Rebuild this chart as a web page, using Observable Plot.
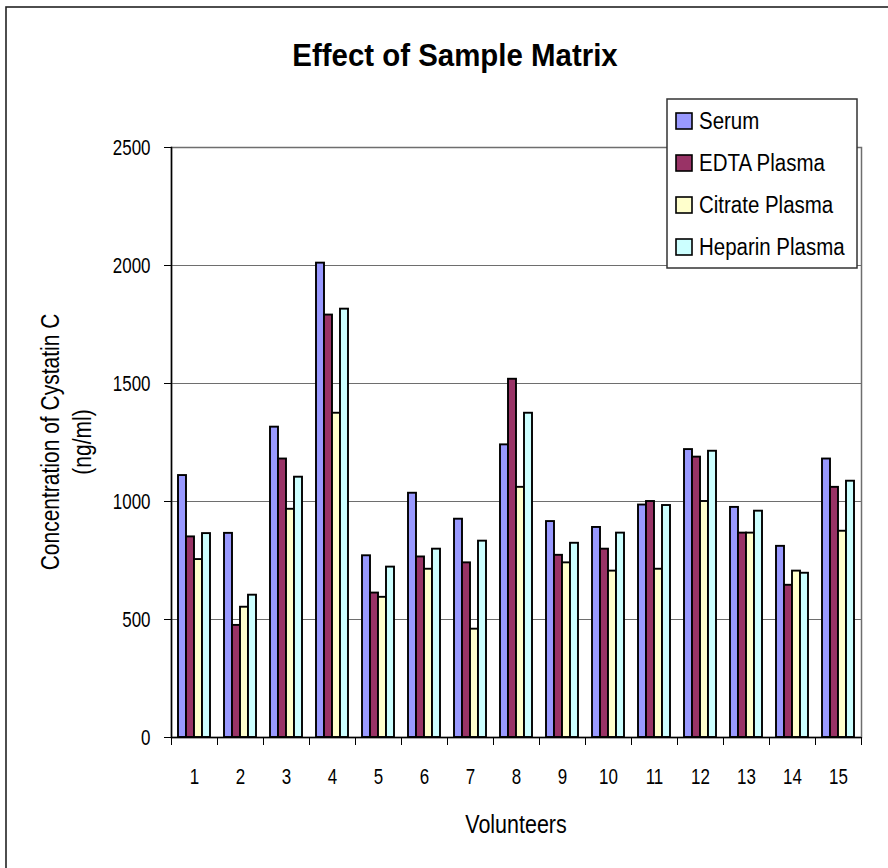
<!DOCTYPE html>
<html><head><meta charset="utf-8">
<script src="https://cdn.jsdelivr.net/npm/d3@7"></script>
<script src="https://cdn.jsdelivr.net/npm/@observablehq/plot@0.6"></script>
<style>
html,body{margin:0;padding:0;background:#fff;}
#wrap{position:relative;width:888px;height:868px;overflow:hidden;background:#fff;}
#chart{position:absolute;left:0;top:0;}
#overlay{position:absolute;left:0;top:0;}
</style></head><body>
<div id="wrap"><div id="chart"></div><svg id="overlay" width="888" height="868" xmlns="http://www.w3.org/2000/svg"></svg></div>
<script>
const FONT = '"Liberation Sans",Arial,sans-serif';

const titleText = "Effect of Sample Matrix";
const xTitle = "Volunteers";
const yTitleLines = ["Concentration of Cystatin C", "(ng/ml)"];
const volunteers = ["1","2","3","4","5","6","7","8","9","10","11","12","13","14","15"];
const series = ["Serum", "EDTA Plasma", "Citrate Plasma", "Heparin Plasma"];
const colors = ["#9999FF", "#993366", "#FFFFCC", "#CCFFFF"];
const yTicks = [0, 500, 1000, 1500, 2000, 2500];

const serum   = [1110, 865, 1315, 2010, 770, 1035, 925, 1240, 915, 890, 985, 1220, 975, 810, 1180];
const edta    = [850, 475, 1180, 1790, 612, 765, 740, 1518, 772, 798, 1000, 1188, 866, 645, 1060];
const citrate = [754, 552, 967, 1374, 594, 713, 459, 1060, 740, 705, 713, 1000, 866, 705, 874];
const heparin = [864, 603, 1103, 1815, 722, 798, 832, 1374, 823, 866, 983, 1213, 959, 696, 1086];
const values = [serum, edta, citrate, heparin];

const data = volunteers.flatMap((v, i) => series.map((s, j) => ({volunteer: v, series: s, value: values[j][i]})));

const W = 888, H = 868, mL = 171, mR = 27, mT = 147, mB = 131;
const step = (W - mL - mR) / volunteers.length;

const chart = Plot.plot({
  width: W, height: H,
  marginLeft: mL, marginRight: mR, marginTop: mT, marginBottom: mB,
  style: {fontFamily: FONT, fontSize: "22px", color: "black", background: "transparent", overflow: "visible"},
  fx: {domain: volunteers, padding: 0, label: null, axis: null},
  x: {domain: series, paddingInner: 0, paddingOuter: 0.64, axis: null},
  y: {domain: [0, 2500], label: null, axis: null},
  color: {domain: series, range: colors},
  marks: [
    Plot.gridY(yTicks, {stroke: "#6e6e6e", strokeOpacity: 1, strokeWidth: 1.2}),
    Plot.frame({facet: "super", stroke: "#6e6e6e", strokeWidth: 1.5}),
    Plot.barY(data, {fx: "volunteer", x: "series", y: "value", fill: "series", stroke: "black", strokeWidth: 1.9}),
    Plot.ruleY([0], {stroke: "black", strokeWidth: 1.5}),
    Plot.frame({facet: "super", anchor: "left", stroke: "black", strokeWidth: 1.5}),
    Plot.axisY({ticks: yTicks, tickFormat: d => String(d), tickSize: 7, tickPadding: 14, label: null, fontSize: 22, stroke: "black"}),
    Plot.axisFx({anchor: "bottom", tickSize: 0, tickPadding: 31, label: null, fontSize: 22}),
    Plot.axisFx({anchor: "bottom", tickSize: 8, text: null, label: null, dx: -step / 2, stroke: "black"}),
    Plot.axisFx({anchor: "bottom", ticks: [volunteers[volunteers.length - 1]], tickSize: 8, text: null, label: null, dx: step / 2, stroke: "black"})
  ]
});
document.getElementById("chart").appendChild(chart);

// narrow the glyphs horizontally, keeping each label's anchor point
function squeeze(root, k) {
  root.querySelectorAll("text").forEach(t => {
    const tr = t.getAttribute("transform") || "";
    t.setAttribute("transform", tr + ` scale(${k},1)`);
    const x = t.getAttribute("x");
    if (x) t.setAttribute("x", +x / k);
  });
}
squeeze(chart, 0.77);

// overlay: border, titles, legend
const NS = "http://www.w3.org/2000/svg";
const ov = document.getElementById("overlay");
function el(tag, attrs, text) {
  const e = document.createElementNS(NS, tag);
  for (const k in attrs) e.setAttribute(k, attrs[k]);
  if (text != null) e.textContent = text;
  ov.appendChild(e);
  return e;
}
function label(str, x, y, size, k, extra = {}, rot = 0) {
  return el("text", Object.assign({transform: `translate(${x},${y})${rot ? ` rotate(${rot})` : ""} scale(${k},1)`,
    "font-family": FONT, "font-size": size, fill: "black"}, extra), str);
}
el("rect", {x: 6, y: 7, width: 900, height: 900, fill: "none", stroke: "#222", "stroke-width": 1.6});
label(titleText, 455, 66, 32, 0.92, {"text-anchor": "middle", "font-weight": "bold"});
label(xTitle, (mL + W - mR) / 2, 833, 25, 0.86, {"text-anchor": "middle"});
const yc = (mT + H - mB) / 2;
label(yTitleLines[0], 59, yc, 25, 0.84, {"text-anchor": "middle"}, -90);
label(yTitleLines[1], 91, yc, 25, 0.84, {"text-anchor": "middle"}, -90);

// legend
const lx = 667, ly = 99, lw = 190, lh = 169, rowH = 42;
el("rect", {x: lx, y: ly, width: lw, height: lh, fill: "white", stroke: "#333", "stroke-width": 1.5});
series.forEach((s, i) => {
  const cy = ly + 22 + i * rowH;
  el("rect", {x: lx + 9, y: cy - 8, width: 16, height: 16, fill: colors[i], stroke: "black", "stroke-width": 1.6});
  label(s, lx + 32, cy + 8, 23, 0.89);
});
</script>
</body></html>
